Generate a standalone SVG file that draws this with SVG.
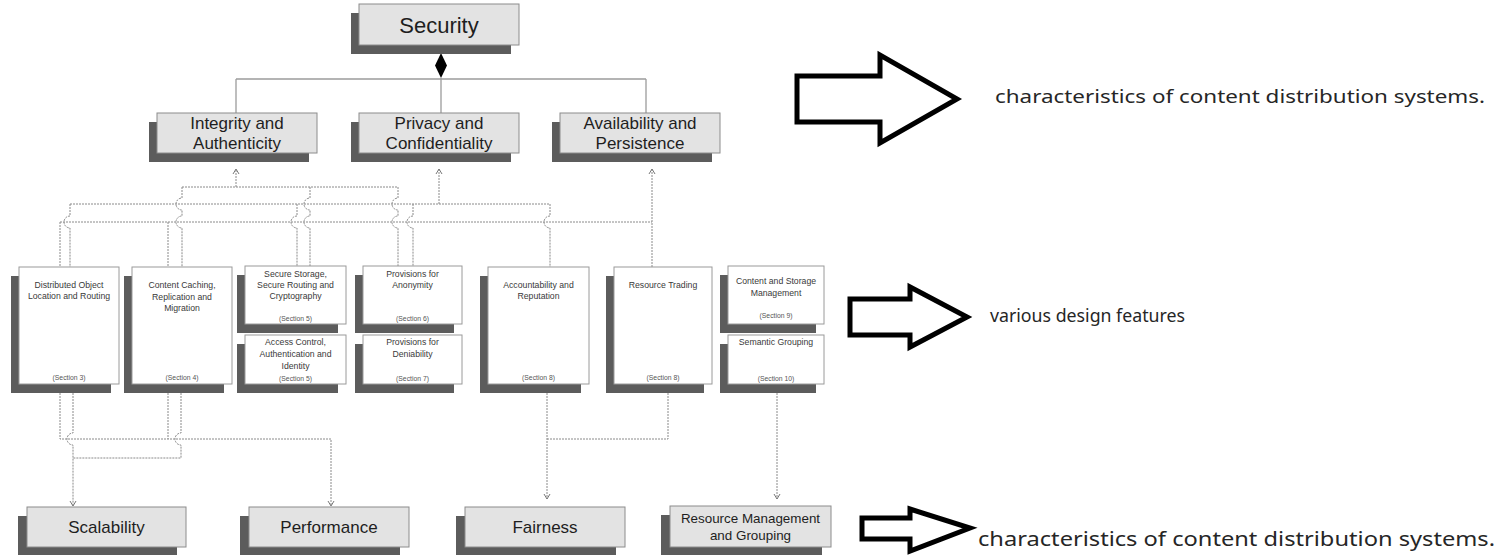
<svg xmlns="http://www.w3.org/2000/svg" width="1502" height="555" viewBox="0 0 1502 555">
<defs>
<style>
.face{fill:#e3e3e3;stroke:#8c8c8c;stroke-width:1}
.mface{fill:#fff;stroke:#9a9a9a;stroke-width:1}
.shadow{fill:#5c5c5c}
.lbl{font-family:"Liberation Sans",Arial,sans-serif;fill:#1e1e1e;text-anchor:middle}
.big{font-size:22px}
.mid{font-size:17px}
.rm{font-size:13.4px}
.sm{font-size:8.7px;fill:#3a3a3a}
.sec{font-size:6.8px;fill:#555}
.tree{stroke:#9c9c9c;stroke-width:1.3;fill:none}
.dot{stroke:#8a8a8a;stroke-width:1;fill:none;stroke-dasharray:2 1}
.bigarrow{fill:#fff;stroke:#000;stroke-width:5;stroke-linejoin:miter}
.note{font-family:"Noto Sans","Open Sans",sans-serif;fill:#262626}
</style>
<marker id="ah" markerUnits="userSpaceOnUse" markerWidth="8" markerHeight="8" refX="6" refY="4" orient="auto">
<path d="M1,1 L6,4 L1,7" fill="none" stroke="#777" stroke-width="1"/>
</marker>
</defs>
<rect width="1502" height="555" fill="#fff"/>

<g id="connectors">
<polygon points="441,53 447,65.5 441,78 435,65.5" fill="#000"/>
<path class="tree" d="M236,79 H646 M236,79 V113 M441,78 V113 M646,79 V113"/>
<path class="dot" marker-end="url(#ah)" d="M236,187 V169"/>
<path class="dot" marker-end="url(#ah)" d="M439,204 V169"/>
<path class="dot" marker-end="url(#ah)" d="M652,267 V169"/>
<path class="dot" d="M182,187 H398 M70,204 H550 M60,222 H652"/>
<path class="dot" d="M60,222 V267 M168,222 V267"/>
<path class="dot" d="M70,204 V216 a6,6 0 0 0 0,12 V267"/>
<path class="dot" d="M182,187 V198 a6,6 0 0 0 0,12 V216 a6,6 0 0 0 0,12 V267"/>
<path class="dot" d="M297,204 V216 a6,6 0 0 0 0,12 V267"/>
<path class="dot" d="M310,187 V198 a6,6 0 0 0 0,12 V216 a6,6 0 0 0 0,12 V267"/>
<path class="dot" d="M398,187 V198 a6,6 0 0 0 0,12 V216 a6,6 0 0 0 0,12 V267"/>
<path class="dot" d="M413,204 V216 a6,6 0 0 0 0,12 V267"/>
<path class="dot" d="M550,204 V216 a6,6 0 0 0 0,12 V267"/>
<path class="dot" marker-end="url(#ah)" d="M60,393 V439 H331 V506"/>
<path class="dot" marker-end="url(#ah)" d="M73,393 V433 a6,6 0 0 0 0,12 V506"/>
<path class="dot" d="M168,393 V439"/>
<path class="dot" d="M181,393 V433 a6,6 0 0 0 0,12 V458 H73"/>
<path class="dot" marker-end="url(#ah)" d="M547,393 V499"/>
<path class="dot" d="M668,393 V439 H547"/>
<path class="dot" marker-end="url(#ah)" d="M777,393 V499"/>
</g>

<g id="security">
<rect class="shadow" x="351" y="13" width="160" height="41"/>
<rect class="face" x="359" y="4" width="160" height="41"/>
<text class="lbl big" x="439" y="32.5">Security</text>
</g>
<g id="integrity">
<rect class="shadow" x="149" y="122" width="160" height="40"/>
<rect class="face" x="157" y="113" width="160" height="40"/>
<text class="lbl mid" x="237" y="129">Integrity and</text>
<text class="lbl mid" x="237" y="149">Authenticity</text>
</g>
<g id="privacy">
<rect class="shadow" x="351" y="122" width="160" height="40"/>
<rect class="face" x="359" y="113" width="160" height="40"/>
<text class="lbl mid" x="439" y="129">Privacy and</text>
<text class="lbl mid" x="439" y="149">Confidentiality</text>
</g>
<g id="availability">
<rect class="shadow" x="552" y="122" width="160" height="40"/>
<rect class="face" x="560" y="113" width="160" height="40"/>
<text class="lbl mid" x="640" y="129">Availability and</text>
<text class="lbl mid" x="640" y="149">Persistence</text>
</g>

<g id="distributed">
<rect class="shadow" x="11" y="276" width="100" height="117"/>
<rect class="mface" x="19" y="267" width="100" height="117"/>
<text class="lbl sm" x="69" y="288">Distributed Object</text>
<text class="lbl sm" x="69" y="299">Location and Routing</text>
<text class="lbl sec" x="69" y="380">(Section 3)</text>
</g>
<g id="caching">
<rect class="shadow" x="124" y="276" width="100" height="117"/>
<rect class="mface" x="132" y="267" width="100" height="117"/>
<text class="lbl sm" x="182" y="288">Content Caching,</text>
<text class="lbl sm" x="182" y="299.5">Replication and</text>
<text class="lbl sm" x="182" y="311">Migration</text>
<text class="lbl sec" x="182" y="380">(Section 4)</text>
</g>
<g id="securestorage">
<rect class="shadow" x="237" y="275" width="101" height="58"/>
<rect class="mface" x="245" y="266" width="101" height="58"/>
<text class="lbl sm" x="295.5" y="277">Secure Storage,</text>
<text class="lbl sm" x="295.5" y="288">Secure Routing and</text>
<text class="lbl sm" x="295.5" y="299">Cryptography</text>
<text class="lbl sec" x="295.5" y="321">(Section 5)</text>
</g>
<g id="accesscontrol">
<rect class="shadow" x="237" y="344" width="101" height="49"/>
<rect class="mface" x="245" y="335" width="101" height="49"/>
<text class="lbl sm" x="295.5" y="344.5">Access Control,</text>
<text class="lbl sm" x="295.5" y="356.5">Authentication and</text>
<text class="lbl sm" x="295.5" y="368.5">Identity</text>
<text class="lbl sec" x="295.5" y="380.5">(Section 5)</text>
</g>
<g id="anonymity">
<rect class="shadow" x="355" y="275" width="99" height="58"/>
<rect class="mface" x="363" y="266" width="99" height="58"/>
<text class="lbl sm" x="412.5" y="277">Provisions for</text>
<text class="lbl sm" x="412.5" y="288">Anonymity</text>
<text class="lbl sec" x="412.5" y="321">(Section 6)</text>
</g>
<g id="deniability">
<rect class="shadow" x="355" y="344" width="99" height="49"/>
<rect class="mface" x="363" y="335" width="99" height="49"/>
<text class="lbl sm" x="412.5" y="344.5">Provisions for</text>
<text class="lbl sm" x="412.5" y="356.5">Deniability</text>
<text class="lbl sec" x="412.5" y="380.5">(Section 7)</text>
</g>
<g id="accountability">
<rect class="shadow" x="480" y="276" width="101" height="117"/>
<rect class="mface" x="488" y="267" width="101" height="117"/>
<text class="lbl sm" x="538.5" y="288">Accountability and</text>
<text class="lbl sm" x="538.5" y="299">Reputation</text>
<text class="lbl sec" x="538.5" y="380">(Section 8)</text>
</g>
<g id="trading">
<rect class="shadow" x="606" y="276" width="98" height="117"/>
<rect class="mface" x="614" y="267" width="98" height="117"/>
<text class="lbl sm" x="663" y="288">Resource Trading</text>
<text class="lbl sec" x="663" y="380">(Section 8)</text>
</g>
<g id="storagemgmt">
<rect class="shadow" x="720" y="275" width="96" height="58"/>
<rect class="mface" x="728" y="266" width="96" height="58"/>
<text class="lbl sm" x="776" y="284">Content and Storage</text>
<text class="lbl sm" x="776" y="296">Management</text>
<text class="lbl sec" x="776" y="318">(Section 9)</text>
</g>
<g id="semantic">
<rect class="shadow" x="720" y="344" width="96" height="49"/>
<rect class="mface" x="728" y="335" width="96" height="49"/>
<text class="lbl sm" x="776" y="345">Semantic Grouping</text>
<text class="lbl sec" x="776" y="381">(Section 10)</text>
</g>

<g id="scalability">
<rect class="shadow" x="18" y="516" width="159" height="40"/>
<rect class="face" x="27" y="507" width="159" height="40"/>
<text class="lbl mid" x="106.5" y="533">Scalability</text>
</g>
<g id="performance">
<rect class="shadow" x="240" y="516" width="160" height="40"/>
<rect class="face" x="249" y="507" width="160" height="40"/>
<text class="lbl mid" x="329" y="533">Performance</text>
</g>
<g id="fairness">
<rect class="shadow" x="456" y="516" width="160" height="40"/>
<rect class="face" x="465" y="507" width="160" height="40"/>
<text class="lbl mid" x="545" y="533">Fairness</text>
</g>
<g id="resourcemgmt">
<rect class="shadow" x="661" y="515" width="161" height="41"/>
<rect class="face" x="670" y="506" width="161" height="41"/>
<text class="lbl rm" x="750.5" y="523">Resource Management</text>
<text class="lbl rm" x="750.5" y="540">and Grouping</text>
</g>

<g id="note1">
<polygon class="bigarrow" points="797,76 880,76 880,55 957,99 880,143 880,122 797,122"/>
<text class="note" x="995" y="103" font-size="18" textLength="490" lengthAdjust="spacingAndGlyphs">characteristics of content distribution systems.</text>
</g>
<g id="note2">
<polygon class="bigarrow" points="850,299 910,299 910,287 967,317 910,347 910,335 850,335"/>
<text class="note" x="990" y="322" font-size="18" textLength="195" lengthAdjust="spacingAndGlyphs">various design features</text>
</g>
<g id="note3">
<polygon class="bigarrow" points="862,518 910,518 910,509 970,528 910,551 910,539 862,539"/>
<text class="note" x="978" y="546" font-size="19" textLength="517" lengthAdjust="spacingAndGlyphs">characteristics of content distribution systems.</text>
</g>
</svg>
